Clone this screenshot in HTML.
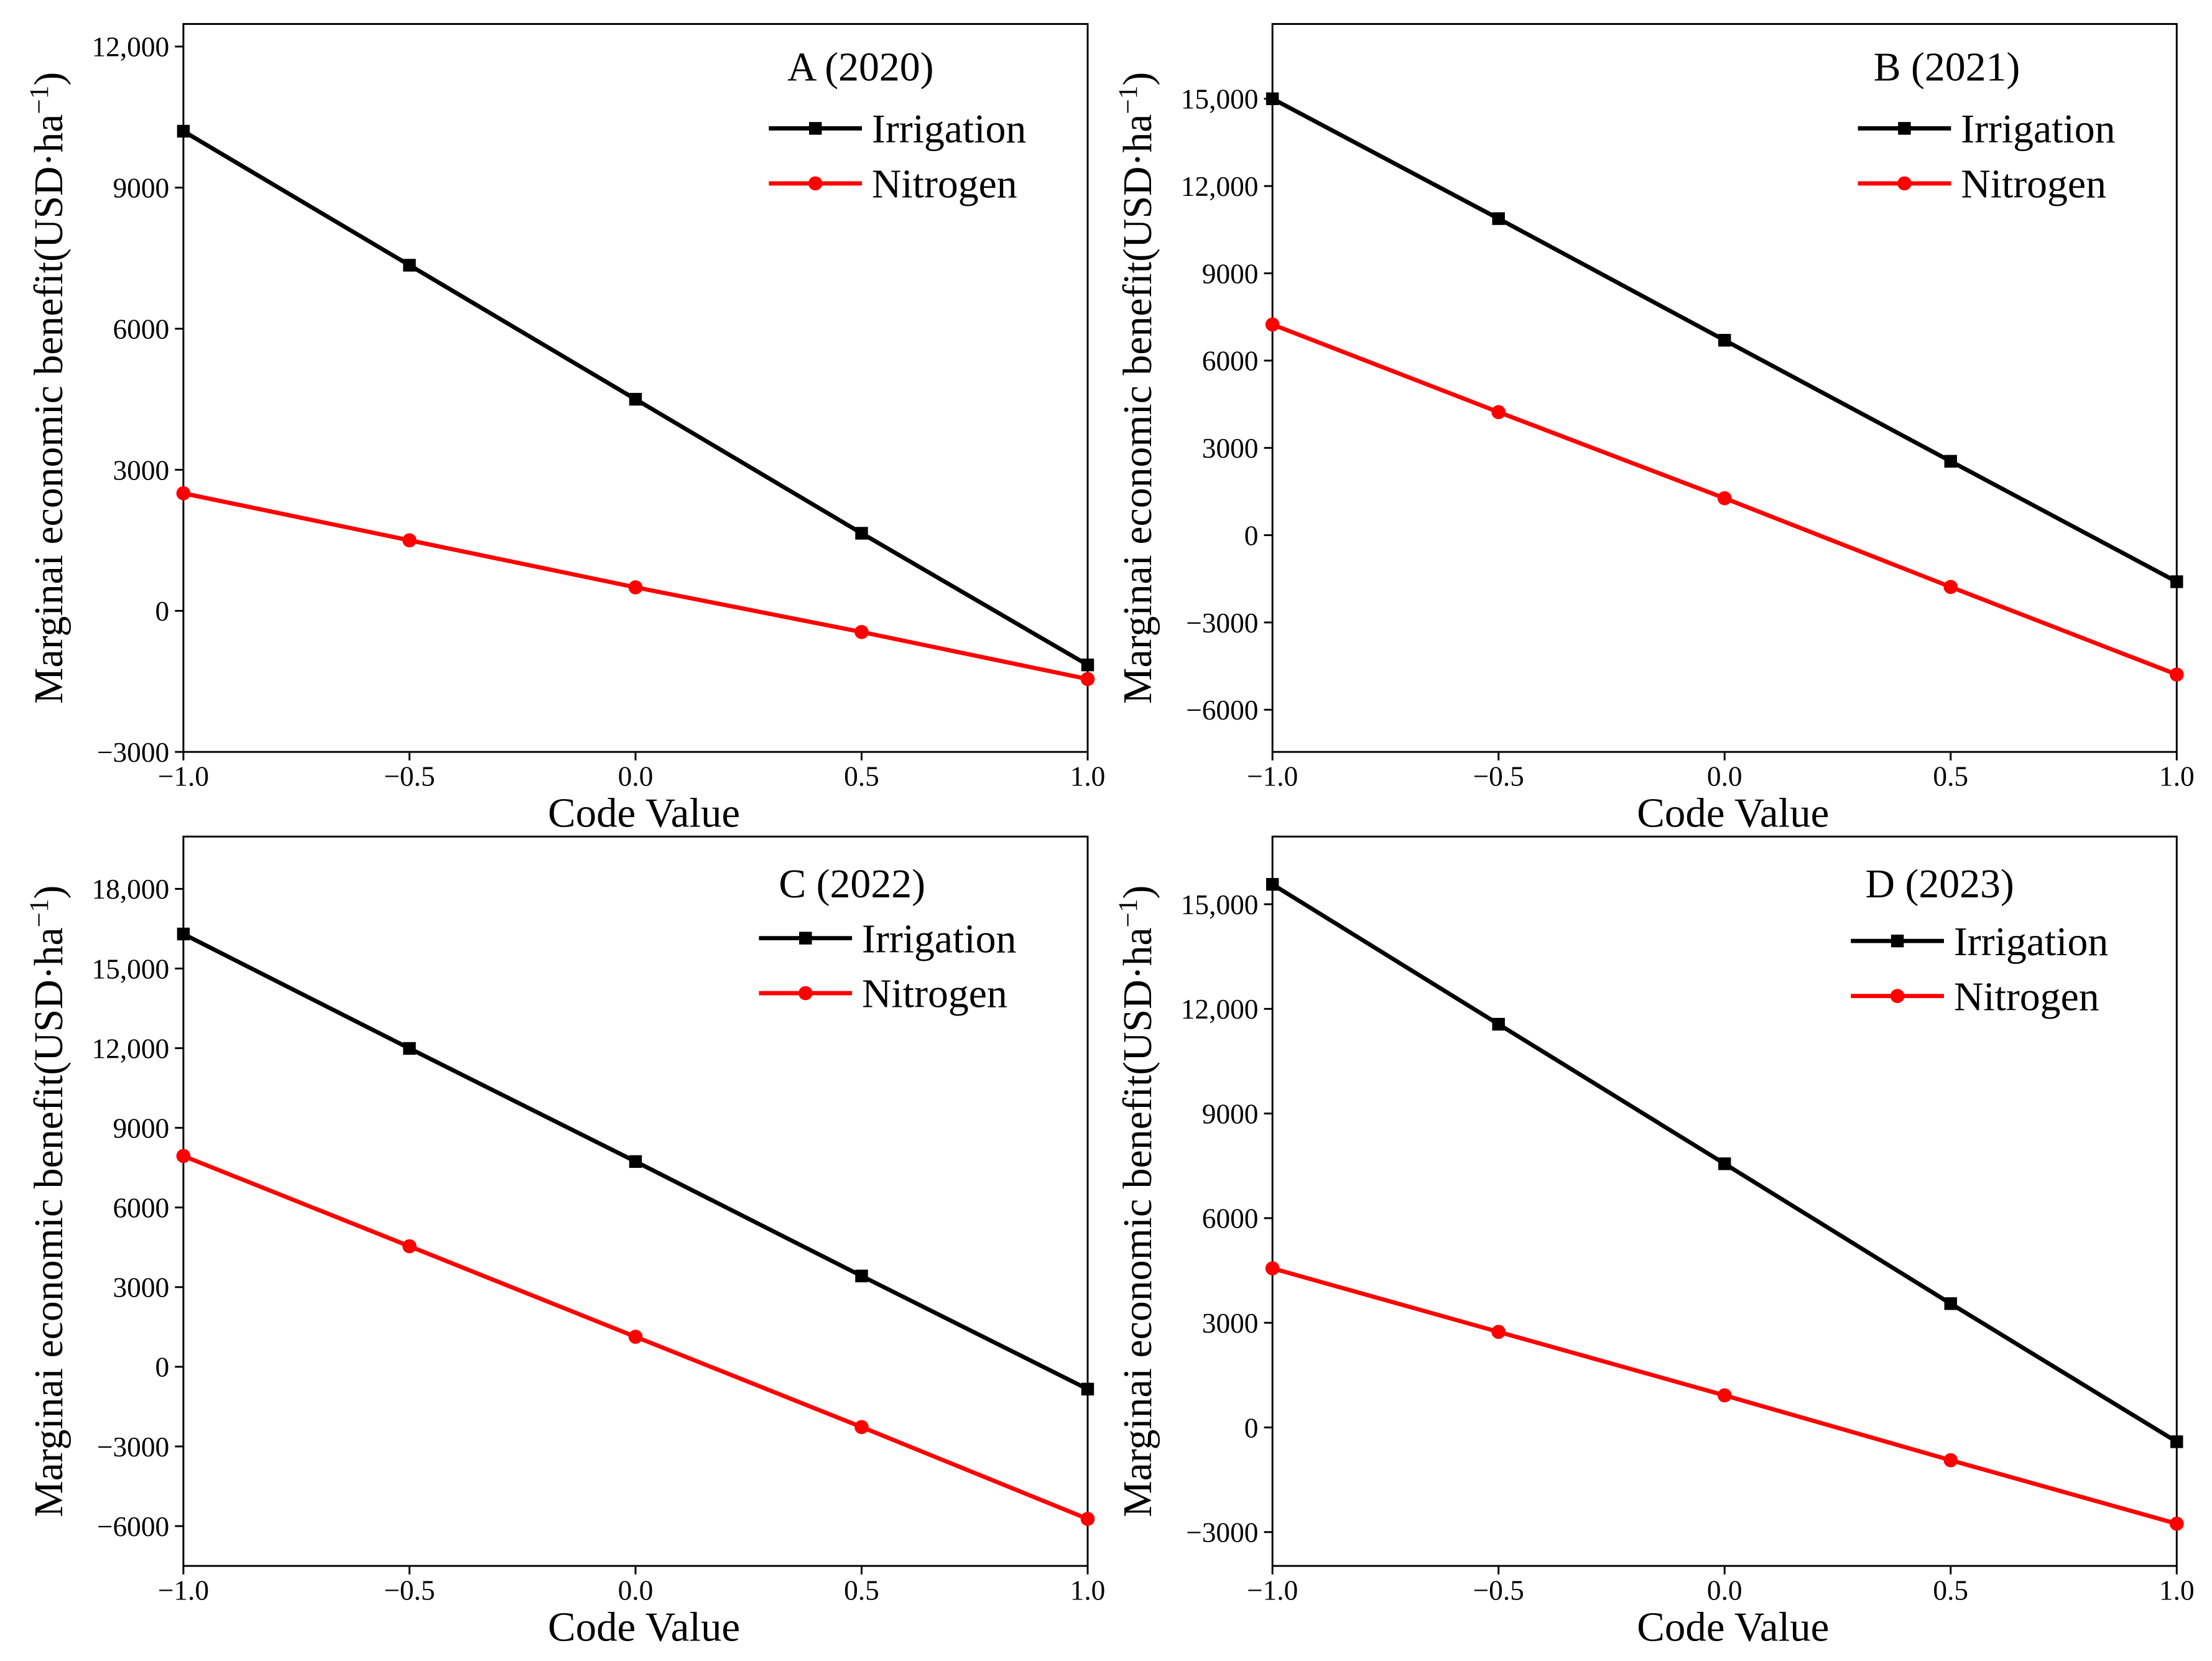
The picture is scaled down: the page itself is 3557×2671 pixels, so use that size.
<!DOCTYPE html>
<html><head><meta charset="utf-8"><style>
html,body{margin:0;padding:0;background:#fff;}
svg{display:block;}
text{font-family:"Liberation Serif","DejaVu Serif",serif;fill:#000;}
</style></head><body>
<svg id="fig" width="3557" height="2671" viewBox="0 0 1568 1177.4" preserveAspectRatio="none" xmlns="http://www.w3.org/2000/svg"></svg>
<script>
const xCodes = [-1, -0.5, 0, 0.5, 1];
const xTickLabels = ["\u22121.0","\u22120.5","0.0","0.5","1.0"];
const irrigA = [10200, 7350, 4500, 1650, -1150];
const nitroA = [2500, 1500, 500, -450, -1450];
const irrigB = [15000, 10880, 6700, 2540, -1600];
const nitroB = [7240, 4230, 1270, -1780, -4790];
const irrigC = [16300, 11990, 7730, 3420, -840];
const nitroC = [7940, 4540, 1130, -2270, -5730];
const irrigD = [15570, 11560, 7560, 3550, -410];
const nitroD = [4560, 2740, 920, -940, -2760];
const ticksA = [-3000, 0, 3000, 6000, 9000, 12000];
const ticksB = [-6000, -3000, 0, 3000, 6000, 9000, 12000, 15000];
const ticksC = [-6000, -3000, 0, 3000, 6000, 9000, 12000, 15000, 18000];
const ticksD = [-3000, 0, 3000, 6000, 9000, 12000, 15000];
const titles = ["A (2020)", "B (2021)", "C (2022)", "D (2023)"];

const NS = "http://www.w3.org/2000/svg";
const svg = document.getElementById('fig');
function mk(tag, attrs, parent, txt){
  const e = document.createElementNS(NS, tag);
  for (const k in attrs) e.setAttribute(k, attrs[k]);
  if (txt !== undefined) e.textContent = txt;
  (parent || svg).appendChild(e);
  return e;
}
function fmt(v){
  let s = Math.abs(v) >= 10000 ? Math.abs(v).toLocaleString('en-US') : String(Math.abs(v));
  return (v < 0 ? "\u2212" : "") + s;
}
const panels = [
  {x0:130,x1:771,y0:17,y1:533,ymin:-3000,ymax:12480,ticks:ticksA,ir:irrigA,ni:nitroA,title:titles[0],tx:610,ty:47,lx:545,ly:91},
  {x0:902,x1:1543,y0:17,y1:533,ymin:-7450,ymax:17570,ticks:ticksB,ir:irrigB,ni:nitroB,title:titles[1],tx:1380,ty:47,lx:1317,ly:91},
  {x0:130,x1:771,y0:593,y1:1110,ymin:-7500,ymax:19970,ticks:ticksC,ir:irrigC,ni:nitroC,title:titles[2],tx:604,ty:626,lx:538,ly:665},
  {x0:902,x1:1543,y0:593,y1:1110,ymin:-3970,ymax:16940,ticks:ticksD,ir:irrigD,ni:nitroD,title:titles[3],tx:1375,ty:626,lx:1312,ly:667}
];
const names = ['a','b','c','d'];
panels.forEach((p,i)=>{
  const g = mk('g',{});
  
  
  const X = v => p.x0 + (v+1)/2*(p.x1-p.x0);
  const Y = v => p.y1 - (v-p.ymin)/(p.ymax-p.ymin)*(p.y1-p.y0);
  const box = mk('rect',{x:p.x0,y:p.y0,width:p.x1-p.x0,height:p.y1-p.y0,fill:'none',stroke:'#000','stroke-width':1.3},g);
  
  
  p.ticks.forEach(t=>{
    mk('line',{x1:p.x0-6,x2:p.x0,y1:Y(t),y2:Y(t),stroke:'#000','stroke-width':1.3},g);
    const tl = mk('text',{x:p.x0-10,y:Y(t)+7,'text-anchor':'end','font-size':20},g,fmt(t));
    
    
  });
  xCodes.forEach((c,j)=>{
    mk('line',{x1:X(c),x2:X(c),y1:p.y1,y2:p.y1+6,stroke:'#000','stroke-width':1.3},g);
    const tl = mk('text',{x:X(c),y:p.y1+24,'text-anchor':'middle','font-size':20},g,xTickLabels[j]);
    
    
  });
  const xt = mk('text',{x:(p.x0+p.x1)/2+6,y:p.y1+53,'text-anchor':'middle','font-size':29.5},g,'Code Value');
  
  
  const cy = (p.y0+p.y1)/2 + 0;
  const yt = mk('text',{x:0,y:0,'text-anchor':'middle','font-size':29,transform:`translate(${p.x0-86},${cy}) rotate(-90)`},g);
  
  
  mk('tspan',{},yt,'Marginai economic benefit(USD\u00b7ha');
  mk('tspan',{'baseline-shift':'super','font-size':19},yt,'\u22121');
  mk('tspan',{},yt,')');
  [[p.ir,'#000','sq','irrigation'],[p.ni,'#f00','ci','nitrogen']].forEach(([arr,col,m,nm])=>{
    const pl = mk('polyline',{points:arr.map((v,k)=>X(xCodes[k])+','+Y(v)).join(' '),fill:'none',stroke:col,'stroke-width':3},g);
    
    
    arr.forEach((v,k)=>{
      let mm;
      if(m==='sq') mm = mk('rect',{x:X(xCodes[k])-4.5,y:Y(v)-4.5,width:9,height:9,fill:col},g);
      else mm = mk('circle',{cx:X(xCodes[k]),cy:Y(v),r:5,fill:col},g);
      
      
    });
  });
  const tt = mk('text',{x:p.tx,y:p.ty+10,'text-anchor':'middle','font-size':29},g,p.title);
  
  
  [['Irrigation','#000','sq',0],['Nitrogen','#f00','ci',39]].forEach(([lab,col,m,dy])=>{
    const lg = mk('g',{},g);
    
    
    const y = p.ly+dy;
    mk('line',{x1:p.lx,x2:p.lx+66,y1:y,y2:y,stroke:col,'stroke-width':3},lg);
    if(m==='sq') mk('rect',{x:p.lx+28.5,y:y-4.5,width:9,height:9,fill:col},lg);
    else mk('circle',{cx:p.lx+33,cy:y,r:5,fill:col},lg);
    mk('text',{x:p.lx+73,y:y+10,'font-size':29},lg,lab);
  });
});
</script>
</body></html>
